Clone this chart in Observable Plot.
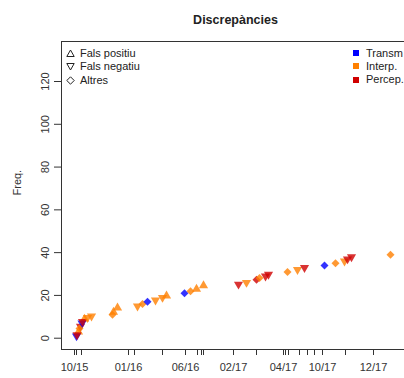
<!DOCTYPE html>
<html><head><meta charset="utf-8">
<script src="https://cdn.jsdelivr.net/npm/d3@7"></script>
<script src="https://cdn.jsdelivr.net/npm/@observablehq/plot@0.6"></script>
<style>
html,body{margin:0;padding:0;background:#fff;overflow:hidden;width:404px;height:378px;}
#wrap{position:relative;width:412px;height:378px;}
#wrap svg{max-width:none !important;display:block;}
.leg{position:absolute;font:11px "Liberation Sans",Arial,sans-serif;color:#222;line-height:13.3px;white-space:nowrap;}
.leg div{display:flex;align-items:center;height:13.3px;}
.leg svg{display:block;}
</style></head><body><div id="wrap"></div><script>
// x positions (axis units along the sequence), cumulative frequency, type, category
const pointX   = [15,15.5,17,18,19,20.5,21,23,26,30,51,52,56,76,81,86,94,101,105,123,129,135,142,177,185,195,198,204,207,226,236,243,263,274,283,286,290,329];
const pointY   = [1,1.5,3,4.5,5.5,7,7.8,9,9.6,10.3,11,12.2,14.2,15,16,17,17.8,19,19.8,21,22,23,24.6,25.2,26,27.3,28.2,29,29.8,31,32,33,34,35,36,37,38,39];
const pointType= ["FN","FN","FP","A","FN","FN","FN","FP","FN","FN","A","FP","FP","FN","A","A","FN","FN","FP","A","A","FP","FP","FN","FN","A","A","FN","FN","A","FN","FN","A","A","FN","FN","FN","A"];
const pointCat = ["Transm","Percep","Interp","Interp","Percep","Transm","Percep","Interp","Interp","Interp","Interp","Interp","Interp","Interp","Interp","Transm","Interp","Interp","Interp","Transm","Interp","Interp","Interp","Percep","Interp","Percep","Interp","Percep","Percep","Interp","Interp","Percep","Transm","Interp","Interp","Percep","Percep","Interp"];

const xTicks = [13,15,20,67,73,101,124,136,140,142,172,195,222,224,227,238,246,253,261,284,312];
const xTickLabels = {13:"10/15",67:"01/16",124:"06/16",172:"02/17",222:"04/17",261:"10/17",312:"12/17"};
const yTicks = [0,20,40,60,80,100,120];

const typeNames = ["Fals positiu","Fals negatiu","Altres"];
const catNames = ["Transm","Interp.","Percep."];
const catColors = {Transm:"#0000ff", Interp:"#ff8000", Percep:"#d00000"};

const points = pointX.map((x,i)=>({x, y:pointY[i], type:pointType[i], cat:pointCat[i]}));

const sqrt3 = Math.sqrt(3);
const triDown = {draw(ctx, size){ const y = -Math.sqrt(size/(sqrt3*3)); ctx.moveTo(0,-y*2); ctx.lineTo(-sqrt3*y, y); ctx.lineTo(sqrt3*y, y); ctx.closePath(); }};
const symbols = {FP:"triangle", FN:triDown, A:"diamond2"};
const sizes = {FP:3.4, FN:3.4, A:3.6};

const font = '"Liberation Sans", Arial, sans-serif';
const chart = Plot.plot({
  width: 412, height: 378,
  marginLeft: 61, marginRight: 3, marginTop: 41, marginBottom: 29,
  style: {fontFamily: font, fontSize: "11px", color: "#222", background: "#fff"},
  x: {domain: [0, 348], axis: null},
  y: {domain: [-5.28, 138.7], axis: null},
  marks: [
    Plot.axisY(yTicks, {label: null, tickSize: 7, tickRotate: -90, tickPadding: 6, fontSize: 11, stroke: "#333", fill: "#333"}),
    Plot.axisX(xTicks, {label: null, tickSize: 6, tickPadding: 8, fontSize: 11, stroke: "#333", fill: "#333", tickFormat: d => xTickLabels[d] ?? ""}),
    ...["FP","FN","A"].map(t => Plot.dot(points.filter(d=>d.type===t), {
      x: "x", y: "y", symbol: symbols[t], r: sizes[t], fill: d => catColors[d.cat], fillOpacity: 0.8, stroke: "none"
    })),
    Plot.frame({stroke: "#333"}),
    Plot.text(["Discrepàncies"], {frameAnchor: "top", dy: -26, fontWeight: "bold", fontSize: 12.5, fill: "#222"}),
    Plot.text(["Freq."], {frameAnchor: "left", dx: -44, rotate: -90, fontSize: 11, fill: "#333"})
  ]
});
const wrap = document.getElementById("wrap");
wrap.appendChild(chart);

function symSvg(kind){
  const s = 9;
  let p;
  if (kind===0) p = '<polygon points="4.5,1 8.2,7.5 0.8,7.5" fill="none" stroke="#222" stroke-width="1"/>';
  else if (kind===1) p = '<polygon points="0.8,1.5 8.2,1.5 4.5,8" fill="none" stroke="#222" stroke-width="1"/>';
  else p = '<polygon points="4.5,0.8 8.2,4.5 4.5,8.2 0.8,4.5" fill="none" stroke="#222" stroke-width="1"/>';
  return `<svg width="${s}" height="${s}" viewBox="0 0 9 9">${p}</svg>`;
}
const left = document.createElement("div");
left.className = "leg";
left.style.left = "65.5px"; left.style.top = "47px";
left.innerHTML = typeNames.map((n,i)=>`<div>${symSvg(i)}<span style="margin-left:5.5px">${n}</span></div>`).join("");
wrap.appendChild(left);
const right = document.createElement("div");
right.className = "leg";
right.style.left = "353px"; right.style.top = "46.5px";
const catKeys = ["Transm","Interp","Percep"];
right.innerHTML = catNames.map((n,i)=>`<div><svg width="6" height="6"><rect width="6" height="6" fill="${catColors[catKeys[i]]}"/></svg><span style="margin-left:7px">${n}</span></div>`).join("");
wrap.appendChild(right);
</script></body></html>
